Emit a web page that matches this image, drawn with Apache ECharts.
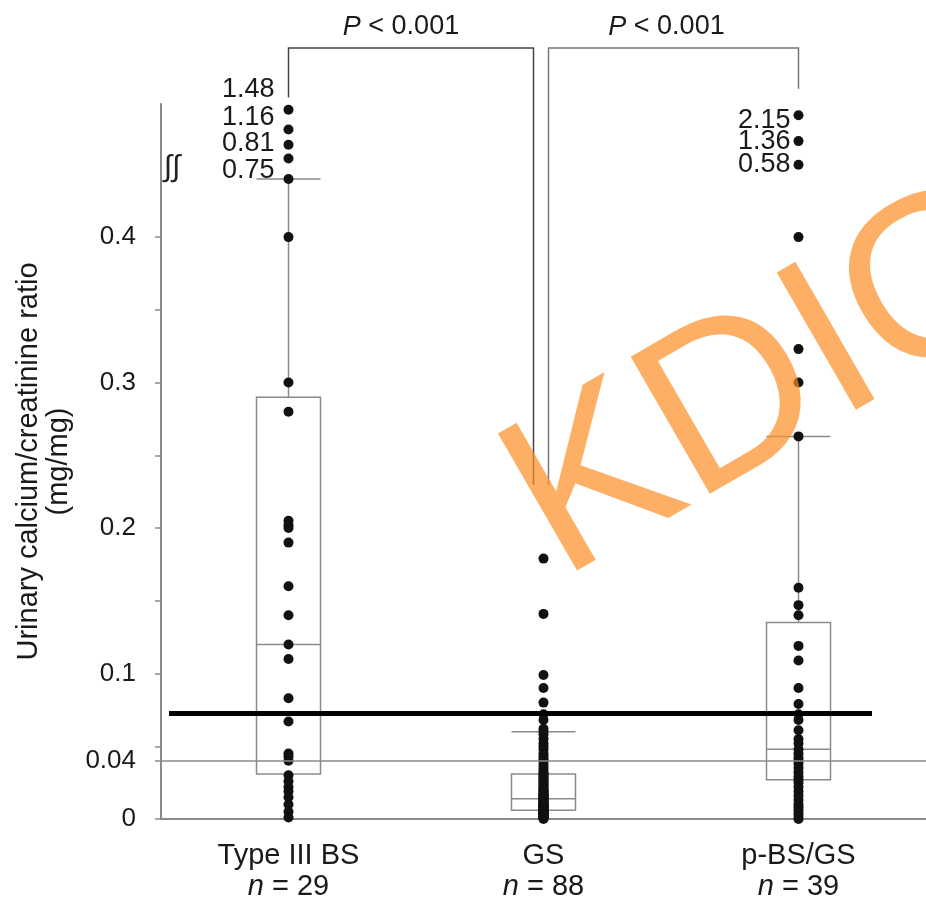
<!DOCTYPE html>
<html>
<head>
<meta charset="utf-8">
<script src="https://cdn.jsdelivr.net/npm/echarts@6/dist/echarts.min.js"></script>
<style>
  html, body { margin: 0; padding: 0; background: #fff; }
  #main { width: 926px; height: 901px; }
</style>
</head>
<body>
<div id="main"></div>
<script>
const categories = ['Type III BS', 'GS', 'p-BS/GS']
const nCounts = [29, 88, 39]

// [min, Q1, median, Q3, upper whisker]
const boxStats = [
  [0, 0.031, 0.12, 0.29, 0.44],
  [0, 0.006, 0.014, 0.031, 0.060],
  [0, 0.027, 0.048, 0.135, 0.263]
]

const type3Values = [0.44, 0.40, 0.30, 0.28, 0.205, 0.202, 0.200, 0.19, 0.16, 0.14, 0.12, 0.11,
  0.083, 0.067, 0.045, 0.043, 0.040, 0.030, 0.026, 0.022, 0.019, 0.015, 0.010, 0.005, 0.001]
const gsValues = [0.179, 0.141, 0.099, 0.090, 0.080, 0.072, 0.068, 0.062, 0.060, 0.058, 0.055,
  0.052, 0.050, 0.048, 0.045, 0.043, 0.041, 0.040, 0.038, 0.036, 0.034, 0.032,
  0.031, 0.030, 0.029, 0.028, 0.027, 0.026, 0.025, 0.024, 0.023, 0.022, 0.021,
  0.020, 0.019, 0.019, 0.018, 0.017, 0.017, 0.016, 0.016, 0.015, 0.015, 0.014,
  0.014, 0.013, 0.013, 0.012, 0.012, 0.011, 0.011, 0.010, 0.010, 0.010, 0.009,
  0.009, 0.009, 0.008, 0.008, 0.008, 0.007, 0.007, 0.007, 0.006, 0.006, 0.006,
  0.006, 0.005, 0.005, 0.005, 0.005, 0.004, 0.004, 0.004, 0.004, 0.003, 0.003,
  0.003, 0.003, 0.002, 0.002, 0.002, 0.002, 0.001, 0.001, 0.001, 0.001, 0.000]
const pbsValues = [0.40, 0.323, 0.30, 0.263, 0.159, 0.147, 0.14, 0.119, 0.109, 0.09, 0.079,
  0.072, 0.068, 0.061, 0.055, 0.052, 0.048, 0.045, 0.042, 0.040, 0.038, 0.035, 0.032,
  0.029, 0.027, 0.025, 0.022, 0.019, 0.016, 0.013, 0.010, 0.008, 0.006, 0.004, 0.002, 0.000]

// outliers above the axis break: real value, drawn height, label height (axis units)
const type3Outliers = [0.75, 0.81, 1.16, 1.48]
const type3OutlierPos = [0.454, 0.4635, 0.474, 0.4875]
const type3LabelPos = [0.446, 0.464, 0.4825, 0.5017]
const pbsOutliers = [0.58, 1.36, 2.15]
const pbsOutlierPos = [0.4497, 0.466, 0.4838]
const pbsLabelPos = [0.4497, 0.4654, 0.4804]

const yLabelValues = [0, 0.04, 0.1, 0.2, 0.3, 0.4]
const yTickValues = [0, 0.04, 0.05, 0.1, 0.15, 0.2, 0.25, 0.3, 0.35, 0.4]
const refLine = 0.04
const maskLine = 0.0725
const pTexts = ['P < 0.001', 'P < 0.001']

const font = 'Liberation Sans, Arial, Helvetica, sans-serif'
const ink = '#1a1a1a'
const chart = echarts.init(document.getElementById('main'))

const dots = []
type3Values.forEach(v => dots.push([0, v]))
type3OutlierPos.forEach(v => dots.push([0, v]))
gsValues.forEach(v => dots.push([1, v]))
pbsValues.forEach(v => dots.push([2, v]))
pbsOutlierPos.forEach(v => dots.push([2, v]))

const option = {
  animation: false,
  grid: { left: 161, right: -9, top: 104, bottom: 78 },
  xAxis: {
    type: 'category',
    data: categories,
    axisLine: { lineStyle: { color: '#8a8a8a', width: 2 } },
    axisTick: { length: 6, lineStyle: { color: '#8a8a8a', width: 1.5 } },
    axisLabel: {
      margin: 21,
      color: ink,
      fontFamily: font,
      formatter: (v, i) => '{c|' + v + '}\n{i|n}{c| = ' + nCounts[i] + '}',
      rich: {
        c: { fontSize: 29, lineHeight: 31, color: ink, fontFamily: font },
        i: { fontSize: 29, lineHeight: 31, color: ink, fontStyle: 'italic', fontFamily: font }
      }
    }
  },
  yAxis: {
    type: 'value',
    min: 0,
    max: 0.4915,
    name: 'Urinary calcium/creatinine ratio\n(mg/mg)',
    nameLocation: 'middle',
    nameGap: 81,
    nameTextStyle: { fontSize: 29, lineHeight: 30, color: ink, fontFamily: font },
    splitLine: { show: false },
    axisLine: { show: true, lineStyle: { color: '#8a8a8a', width: 2 } },
    axisTick: { show: true, length: 6, customValues: yTickValues, lineStyle: { color: '#8a8a8a', width: 1.5 } },
    axisLabel: { customValues: yLabelValues, margin: 25, fontSize: 26, color: ink, fontFamily: font }
  },
  series: [
    {
      type: 'boxplot',
      data: boxStats,
      boxWidth: [64, 64],
      itemStyle: { color: 'rgba(0,0,0,0)', borderColor: '#8a8a8a', borderWidth: 1.5 },
      markLine: {
        silent: true,
        symbol: 'none',
        label: { show: false },
        lineStyle: { color: '#8a8a8a', width: 1.5, type: 'solid' },
        data: [{ yAxis: refLine }]
      },
      z: 2
    },
    {
      type: 'scatter',
      data: dots,
      symbolSize: 10,
      clip: false,
      itemStyle: { color: '#111', opacity: 1 },
      z: 3
    },
    {
      type: 'scatter',
      data: type3LabelPos.map((p, i) => ({ value: [0, p], name: String(type3Outliers[i]) })),
      symbolSize: 0,
      clip: false,
      itemStyle: { opacity: 1 },
      label: {
        show: true, position: 'left', distance: 14, formatter: p => p.name,
        fontSize: 27, color: ink, fontFamily: font
      },
      z: 3
    },
    {
      type: 'scatter',
      data: pbsLabelPos.map((p, i) => ({ value: [2, p], name: String(pbsOutliers[i]) })),
      symbolSize: 0,
      clip: false,
      itemStyle: { opacity: 1 },
      label: {
        show: true, position: 'left', distance: 8, formatter: p => p.name,
        fontSize: 27, color: ink, fontFamily: font
      },
      z: 3
    }
  ]
}
chart.setOption(option)

// annotations: brackets, p-values, axis break, mask line, watermark
const px = (x, y) => chart.convertToPixel({ xAxisIndex: 0, yAxisIndex: 0 }, [x, y])
const c0 = px(0, 0)[0], c1 = px(1, 0)[0], c2 = px(2, 0)[0]
const yTop = px(0, 0.53)[1]
const gfx = []
gfx.push({
  type: 'polyline', z: 10,
  shape: { points: [[c0, px(0, 0.496)[1]], [c0, yTop], [c1 - 10, yTop], [c1 - 10, px(0, 0.2297)[1]]] },
  style: { stroke: '#444', lineWidth: 1.5, fill: null }
})
gfx.push({
  type: 'polyline', z: 10,
  shape: { points: [[c1 + 5, px(0, 0.2297)[1]], [c1 + 5, yTop], [c2, yTop], [c2, px(0, 0.502)[1]]] },
  style: { stroke: '#777', lineWidth: 1.5, fill: null }
})
const pCenters = [(c0 + c1 - 10) / 2 - 10, (c1 + 5 + c2) / 2 - 7]
pCenters.forEach((cx, i) => {
  gfx.push({
    type: 'text', z: 10, x: cx, y: yTop - 21,
    style: {
      text: '{i|P}' + pTexts[i].slice(1), align: 'center', verticalAlign: 'middle',
      fontSize: 27, fill: ink, fontFamily: font,
      rich: { i: { fontStyle: 'italic', fontSize: 27, fill: ink, fontFamily: font } }
    }
  })
})
const yAxisX = px(0, 0)[0] - (c1 - c0) / 2
gfx.push({
  type: 'text', z: 10, x: yAxisX + 11, y: px(0, 0.448)[1],
  style: { text: '∫∫', align: 'center', verticalAlign: 'middle', fontSize: 30, fill: '#222', fontFamily: font }
})
const maskY = px(0, maskLine)[1]
gfx.push({
  type: 'line', z: 20,
  shape: { x1: yAxisX + 8, y1: maskY, x2: 872, y2: maskY },
  style: { stroke: '#000', lineWidth: 5 }
})
gfx.push({
  type: 'text', z: 30, x: 529, y: 525, rotation: 30 * Math.PI / 180,
  style: {
    text: 'KDIGO', align: 'left', verticalAlign: 'middle',
    fontSize: 230, fill: 'rgba(252,142,36,0.7)', fontFamily: font
  }
})
chart.setOption({ graphic: gfx })
</script>
</body>
</html>
